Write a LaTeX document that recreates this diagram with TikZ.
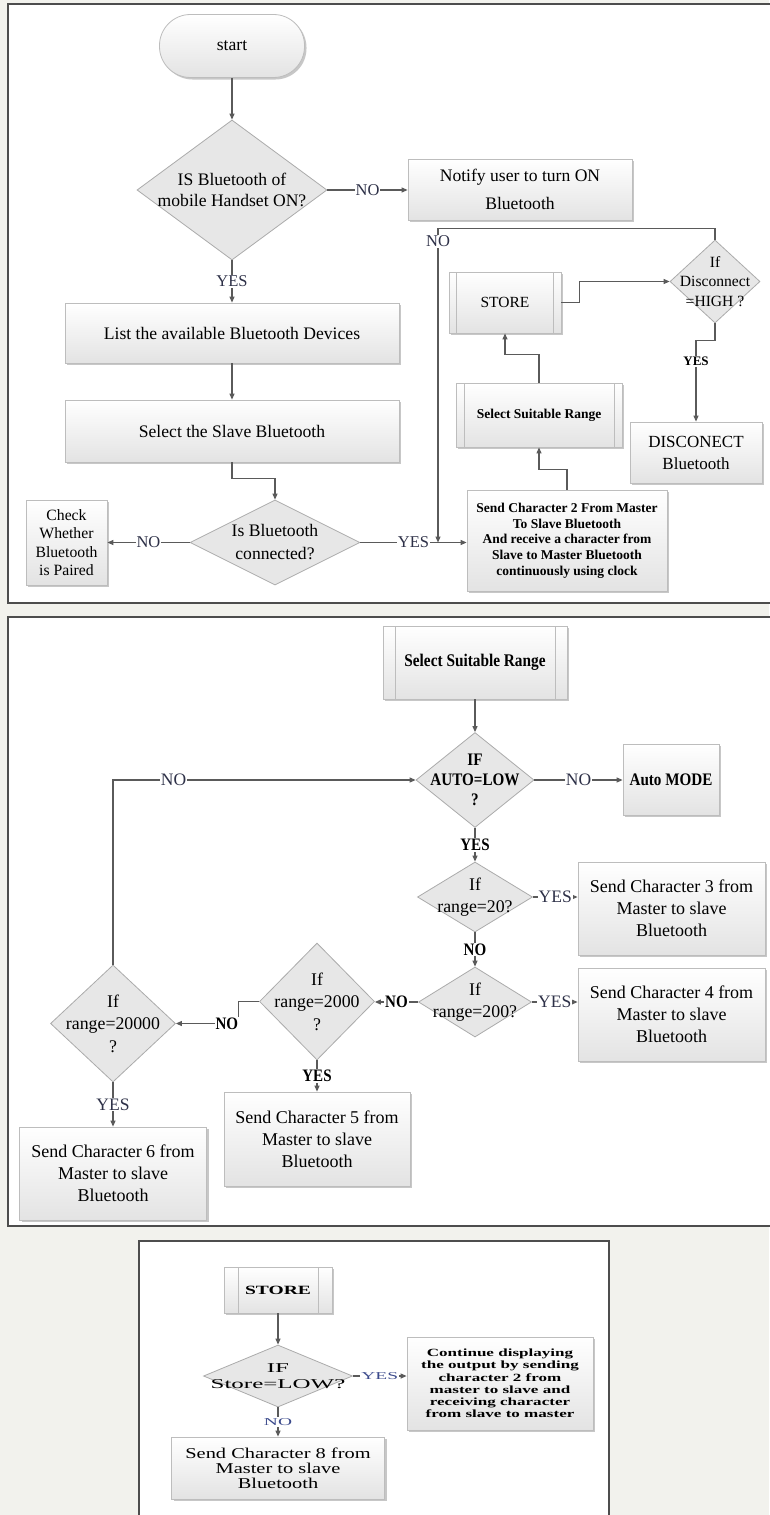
\documentclass[tikz,border=0pt]{standalone}
\usepackage{fontspec}
\setmainfont{Liberation Serif}
\newfontfamily\condfont[FakeStretch=0.86]{Liberation Serif}
\newfontfamily\wideS[FakeStretch=1.36]{Liberation Serif}
\newfontfamily\wideM[FakeStretch=1.55]{Liberation Serif}
\newfontfamily\wideL[FakeStretch=1.85]{Liberation Serif}
\usetikzlibrary{arrows.meta,shadows,calc,shapes.geometric}

\definecolor{pagebg}{HTML}{F2F2ED}
\definecolor{framecol}{HTML}{4D4D4D}
\definecolor{wirecol}{HTML}{5A5A5A}
\definecolor{edgecol}{HTML}{BDBDBD}
\definecolor{boxlow}{HTML}{E3E3E3}
\definecolor{diafill}{HTML}{E7E7E7}
\definecolor{diaedge}{HTML}{ABABAB}
\definecolor{labcol}{HTML}{2E3148}
\definecolor{labblue}{HTML}{3B4A8C}

\newcommand{\fsz}[2]{\fontsize{#1}{#2}\selectfont}

\tikzset{
  panel/.style={draw=framecol, line width=1.3pt, fill=white},
  box/.style={rectangle, draw=edgecol, line width=0.8pt,
    top color=white, bottom color=boxlow, align=center, inner sep=0pt,
    drop shadow={shadow xshift=2pt, shadow yshift=-2pt, opacity=0.22, fill=black}},
  startbox/.style={box, rounded corners=31pt, minimum width=145pt, minimum height=63pt,
    font=\fsz{17.6}{21}},
  ppbox/.style={box, path picture={
    \draw[edgecol, line width=0.8pt]
      ([xshift=#1]path picture bounding box.north west) -- ([xshift=#1]path picture bounding box.south west)
      ([xshift=-#1]path picture bounding box.north east) -- ([xshift=-#1]path picture bounding box.south east);}},
  dia/.style={diamond, draw=diaedge, line width=0.8pt, fill=diafill, inner sep=0pt},
  txt/.style={align=center, inner sep=0pt},
  wire/.style={draw=wirecol, line width=1.1pt},
  arr/.style={wire, -{Triangle[length=6pt,width=5pt]}},
  lab/.style={fill=white, inner sep=1pt, text=labcol, font=\fsz{16.5}{18}},
  blab/.style={fill=white, inner sep=1pt, text=black, font=\fsz{13}{14}\bfseries},
  labtwo/.style={fill=white, inner sep=1pt, text=labcol, font=\fsz{17.5}{19}},
  blabtwo/.style={fill=white, inner sep=1pt, text=black, font=\condfont\fsz{17.5}{19}\bfseries},
  labthree/.style={fill=white, inner sep=1pt, text=labblue, font=\wideL\fsz{10.5}{12}},
}

\begin{document}
\begin{tikzpicture}[x=1pt,y=-1pt]
\useasboundingbox (0,0) rectangle (769,1515);
\fill[pagebg] (0,0) rectangle (769,1515);

% ---------- frames ----------
\draw[panel] (8,4) rectangle (780,603);
\draw[panel] (8,617) rectangle (780,1226);
\draw[panel] (139,1241) rectangle (609,1530);

% ---------- first chart: connection ----------
\node[startbox] (start) at (232,46) {start};
\node[dia, minimum width=190pt, minimum height=140pt] (d1) at (232,190) {};
\node[txt, font=\fsz{17.6}{21.7}] (d1t) at (d1) {IS Bluetooth of\\mobile Handset ON?};
\node[box, minimum width=224pt, minimum height=61pt, font=\fsz{17.6}{28}] (notify) at (520,189.5) {Notify user to turn ON\\Bluetooth};
\node[box, minimum width=334pt, minimum height=60pt, font=\fsz{17.6}{22}] (list) at (232,333) {List the available Bluetooth Devices};
\node[box, minimum width=334pt, minimum height=62pt, font=\fsz{17.6}{22}] (slave) at (232,431) {Select the Slave Bluetooth};
\node[dia, minimum width=170pt, minimum height=85pt] (d2) at (275,542.5) {};
\node[txt, font=\fsz{17.6}{23}] (d2t) at (d2) {Is Bluetooth\\connected?};
\node[box, minimum width=81pt, minimum height=85pt, font=\fsz{15.7}{18.5}] (check) at (66.5,542.5) {Check\\Whether\\Bluetooth\\is Paired};
\node[box, minimum width=200pt, minimum height=101pt, font=\fsz{13.5}{15.7}\bfseries] (send2) at (567,540.5)
  {Send Character 2 From Master\\To Slave Bluetooth\\And receive a character from\\Slave to Master Bluetooth\\continuously using clock};
\node[ppbox=8pt, minimum width=166pt, minimum height=64pt, font=\fsz{13.5}{16}\bfseries] (ssr1) at (539,415) {Select Suitable Range};
\node[ppbox=7.5pt, minimum width=112pt, minimum height=61pt, font=\fsz{15.5}{18}] (store1) at (505,302.5) {STORE};
\node[dia, minimum width=90pt, minimum height=83pt] (d3) at (715,281.5) {};
\node[txt, font=\fsz{15.6}{19.5}] (d3t) at (d3) {If\\Disconnect\\=HIGH ?};
\node[box, minimum width=132pt, minimum height=61pt, font=\fsz{17}{22}] (disc) at (696,452.5) {DISCONECT\\Bluetooth};
\coordinate (j1) at (438,542.5);

\draw[arr] (start.south) -- (d1.north);
\draw[arr] (d1.east) -- node[lab]{NO} (d1.east -| notify.west);
\draw[arr] (d1.south) -- node[lab]{YES} (list.north);
\draw[arr] (list.south) -- (slave.north);
\draw[arr] (slave.south) -- ++(0,16) -| (d2.north);
\draw[arr] (d2.west) -- node[lab]{NO} (check.east);
\draw[arr] (d2.east) -- node[lab]{YES} (d2.east -| send2.west);
\draw[arr] (d3.north) -- ++(0,-11) -| node[lab, pos=0.52]{NO} (j1);
\draw[arr] (store1.east) -- ++(18,0) |- (d3.west);
\draw[arr] (ssr1.north) -- ++(0,-28) -| (store1.south);
\draw[arr] (send2.north) -- ++(0,-20) -| (ssr1.south);
\draw[arr] (d3.south) -- ++(0,17) -| node[blab, pos=0.63]{YES} (disc.north);

% ---------- second chart: range selection ----------
\node[ppbox=12pt, minimum width=184pt, minimum height=73pt, font=\condfont\fsz{17.8}{21}\bfseries] (ssr2) at (475,662.5) {Select Suitable Range};
\node[dia, minimum width=118pt, minimum height=95pt] (auto) at (475,780) {};
\node[txt, font=\condfont\fsz{17.6}{20}\bfseries] (autot) at (auto) {IF\\AUTO=LOW\\?};
\node[box, minimum width=96pt, minimum height=71pt, font=\condfont\fsz{17.6}{20}\bfseries] (automode) at (671,779.5) {Auto MODE};
\node[dia, minimum width=115pt, minimum height=70pt] (r20) at (475,897) {};
\node[txt, font=\fsz{17.8}{22.5}] (r20t) at (r20) {If\\range=20?};
\node[box, minimum width=187pt, minimum height=93pt, font=\fsz{18}{22}] (c3) at (671.5,908.5) {Send Character 3 from\\Master to slave\\Bluetooth};
\node[dia, minimum width=113pt, minimum height=70pt] (r200) at (475,1002) {};
\node[txt, font=\fsz{17.8}{22.5}] (r200t) at (r200) {If\\range=200?};
\node[box, minimum width=187pt, minimum height=93pt, font=\fsz{18}{22}] (c4) at (671.5,1014.5) {Send Character 4 from\\Master to slave\\Bluetooth};
\node[dia, minimum width=115pt, minimum height=117pt] (r2000) at (317,1001.5) {};
\node[txt, font=\fsz{17.8}{22.5}] (r2000t) at (r2000) {If\\range=2000\\?};
\node[dia, minimum width=125pt, minimum height=117pt] (r20000) at (113,1023.5) {};
\node[txt, font=\fsz{17.8}{22.5}] (r20000t) at (r20000) {If\\range=20000\\?};
\node[box, minimum width=186pt, minimum height=94pt, font=\fsz{18}{22}] (c5) at (317,1139) {Send Character 5 from\\Master to slave\\Bluetooth};
\node[box, minimum width=187pt, minimum height=93pt, font=\fsz{18}{22}] (c6) at (113,1173.5) {Send Character 6 from\\Master to slave\\Bluetooth};

\draw[arr] (ssr2.south) -- (auto.north);
\draw[arr] (auto.east) -- node[labtwo]{NO} (auto.east -| automode.west);
\draw[arr] (auto.south) -- node[blabtwo]{YES} (r20.north);
\draw[arr] (r20.east) -- node[labtwo]{YES} (r20.east -| c3.west);
\draw[arr] (r20.south) -- node[blabtwo]{NO} (r200.north);
\draw[arr] (r200.east) -- node[labtwo]{YES} (r200.east -| c4.west);
\draw[arr] (r200.west) -- node[blabtwo]{NO} (r200.west -| r2000.east);
\draw[arr] (r2000.west) -- ++(-21,0) |- node[blabtwo, pos=0.59]{NO} (r20000.east);
\draw[arr] (r20000.north) |- node[labtwo, pos=0.6]{NO} (auto.west);
\draw[arr] (r2000.south) -- node[blabtwo]{YES} (c5.north);
\draw[arr] (r20000.south) -- node[labtwo]{YES} (c6.north);

% ---------- third chart: store ----------
\node[ppbox=14pt, minimum width=108pt, minimum height=46pt, font=\wideM\fsz{12.6}{15}\bfseries] (store3) at (278,1290) {STORE};
\node[dia, minimum width=149pt, minimum height=62pt] (d4) at (278,1376) {};
\node[txt, font=\wideL\fsz{13.5}{16}] (d4t) at (d4) {IF\\Store=LOW?};
\node[box, minimum width=186pt, minimum height=93pt, font=\wideM\fsz{11}{12.2}\bfseries] (cont) at (500,1383.5)
  {Continue displaying\\the output by sending\\character 2 from\\master to slave and\\receiving character\\from slave to master};
\node[box, minimum width=213pt, minimum height=62pt, font=\wideS\fsz{15}{15}] (c8) at (278,1468) {Send Character 8 from\\Master to slave\\Bluetooth};

\draw[arr] (store3.south) -- (d4.north);
\draw[arr] (d4.east) -- node[labthree]{YES} (d4.east -| cont.west);
\draw[arr] (d4.south) -- node[labthree]{NO} (c8.north);
\end{tikzpicture}
\end{document}
